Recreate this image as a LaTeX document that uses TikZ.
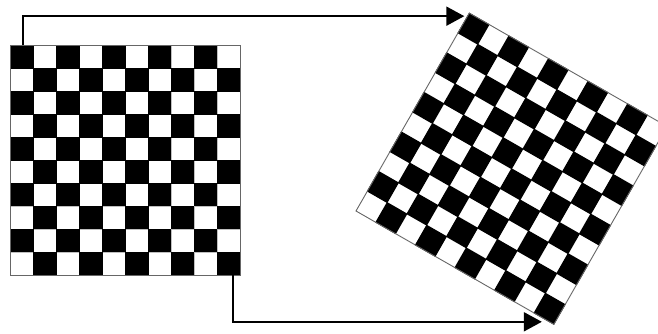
\documentclass[tikz,border=0pt]{standalone}
\usetikzlibrary{arrows.meta}
\begin{document}
\begin{tikzpicture}[x=1pt,y=1pt,
  conn/.style={line width=2pt,-{Triangle[length=18pt,width=19pt]}},
  gridline/.style={gray!50,line width=0.5pt},
  boardedge/.style={gray!80!black,line width=0.9pt}]
\useasboundingbox (0,0) rectangle (658,333);
\clip (0,0) rectangle (658,333);
% left checkerboard
\node[draw=none,minimum size=229.5pt,inner sep=0pt,anchor=south west] (L) at (10.5,58) {};
\begin{scope}[shift={(L.south west)}]
  \draw[gridline] (0,0) grid[step=22.95] (229.5,229.5);
  \foreach \i in {0,...,9} \foreach \j in {0,...,9} {
    \pgfmathtruncatemacro\p{mod(\i+\j,2)}
    \ifnum\p=1 \fill[black] (\i*22.95-0.3,\j*22.95-0.3) rectangle ++(23.55,23.55); \fi
  }
  \draw[boardedge] (0,0) rectangle (229.5,229.5);
\end{scope}
% rotated checkerboard
\begin{scope}[shift={(356,122)},rotate=-29.8]
  \foreach \i in {0,...,9} \foreach \j in {0,...,9} {
    \pgfmathtruncatemacro\p{mod(\i+\j,2)}
    \ifnum\p=1 \fill[black] (\i*22.8-0.4,\j*22.8-0.4) rectangle ++(23.6,23.6); \fi
  }
  \draw[boardedge] (0,0) rectangle (228,228);
  \coordinate (Rtop) at (0,228);
  \coordinate (Rbot) at (228,0);
\end{scope}
% connector ends
\coordinate (topstart) at ([xshift=12.5pt]L.north west);
\coordinate (topend) at ([xshift=-5pt,yshift=-3pt]Rtop);
\coordinate (botstart) at ([xshift=-7pt]L.south east);
\coordinate (botend) at ([xshift=-12pt,yshift=2.5pt]Rbot);
\draw[conn] (topstart) |- (topend);
\draw[conn] (botstart) |- (botend);
\end{tikzpicture}
\end{document}
